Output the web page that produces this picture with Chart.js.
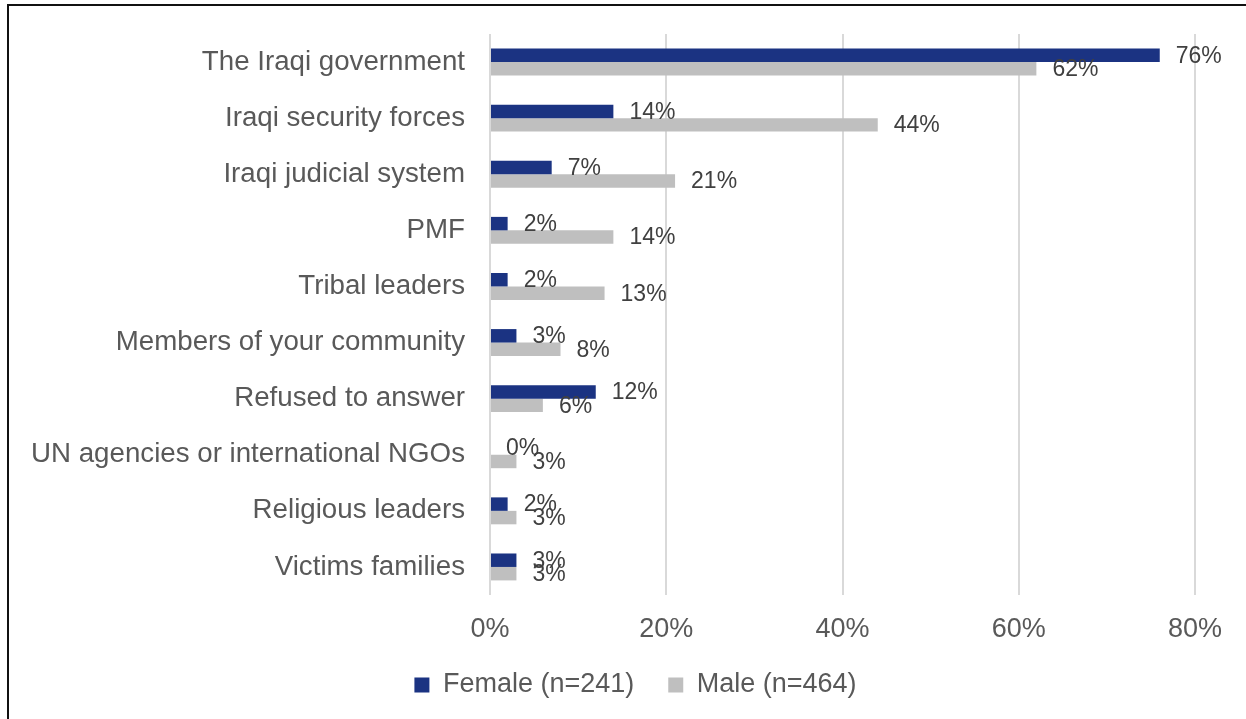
<!DOCTYPE html>
<html>
<head>
<meta charset="utf-8">
<title>Trust by gender</title>
<script src="https://cdn.jsdelivr.net/npm/chart.js@4"></script>
<style>
  html, body { margin:0; padding:0; background:#fff; }
  #wrap { position:relative; width:1246px; height:719px; overflow:hidden; }
  #chart { position:absolute; left:0; top:0; }
  .frame { position:absolute; left:7px; top:4px; width:1250px; height:730px;
           border-left:2px solid #111; border-top:2px solid #111; pointer-events:none; }
</style>
</head>
<body>
<div id="wrap">
  <canvas id="chart" width="1246" height="719"></canvas>
  <div class="frame"></div>
</div>

<script>
// ---- data ----
const categories = [
  "The Iraqi government",
  "Iraqi security forces",
  "Iraqi judicial system",
  "PMF",
  "Tribal leaders",
  "Members of your community",
  "Refused to answer",
  "UN agencies or international NGOs",
  "Religious leaders",
  "Victims families"
];
const female = [76, 14, 7, 2, 2, 3, 12, 0, 2, 3];
const male   = [62, 44, 21, 14, 13, 8, 6, 3, 3, 3];
const xTicks = [0, 20, 40, 60, 80];

const FONT = "'Liberation Sans', Arial, sans-serif";

// value labels at the end of every bar
const barLabels = {
  id: "barLabels",
  afterDatasetsDraw(chart) {
    const ctx = chart.ctx;
    ctx.save();
    ctx.font = "23px " + FONT;
    ctx.fillStyle = "#404040";
    ctx.textAlign = "left";
    ctx.textBaseline = "middle";
    chart.data.datasets.forEach((ds, i) => {
      chart.getDatasetMeta(i).data.forEach((bar, j) => {
        ctx.fillText(ds.data[j] + "%", bar.x + 16, bar.y + 1);
      });
    });
    ctx.restore();
  }
};

// legend sits a little right of the canvas centre
const legendShift = {
  id: "legendShift",
  afterLayout(chart) {
    const lg = chart.legend;
    lg.left += 38;
    lg.right += 38;
  }
};

const legendPad = 34;

new Chart(document.getElementById("chart"), {
  type: "bar",
  data: {
    labels: categories,
    datasets: [
      { label: "Female (n=241)", data: female, backgroundColor: "#1B3382", borderWidth: 0 },
      { label: "Male (n=464)", data: male, backgroundColor: "#BFBFBF", borderWidth: 0 }
    ]
  },
  options: {
    indexAxis: "y",
    responsive: false,
    animation: false,
    categoryPercentage: 0.48,
    barPercentage: 1.0,
    layout: { padding: { left: 0, right: 51, top: 34, bottom: 10.5 } },
    scales: {
      x: {
        min: 0, max: 80,
        afterBuildTicks: (s) => { s.ticks = xTicks.map(v => ({ value: v })); },
        afterFit: (s) => { s.height = 76.5 - legendPad; },
        grid: { color: "#D9D9D9", lineWidth: 2, drawTicks: false },
        border: { display: false },
        ticks: {
          padding: 18,
          color: "#595959",
          font: { family: FONT, size: 27 },
          callback: (v) => v + "%"
        }
      },
      y: {
        afterFit: (s) => { s.width = 490; s.paddingTop = 0; s.paddingBottom = 0; },
        grid: { display: false, drawTicks: false },
        border: { display: false },
        ticks: {
          padding: 25,
          color: "#595959",
          font: { family: FONT, size: 27.7 }
        }
      }
    },
    plugins: {
      tooltip: { enabled: false },
      legend: {
        position: "bottom",
        labels: {
          boxWidth: 15,
          boxHeight: 15,
          padding: legendPad,
          color: "#595959",
          font: { family: FONT, size: 27 }
        }
      }
    }
  },
  plugins: [barLabels, legendShift]
});
</script>
</body>
</html>
